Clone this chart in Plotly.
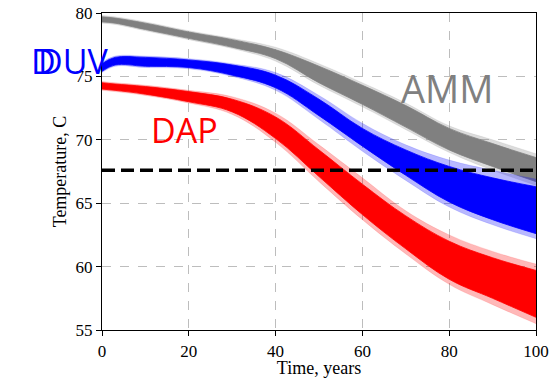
import plotly.graph_objects as go

# ---- data ----
time_years = [0, 3, 10, 20, 30, 40, 50, 60, 70, 80, 90, 100]

amm_outer_hi = [79.8, 79.7, 79.3, 78.6, 78.0, 77.3, 76.0, 74.5, 72.9, 71.1, 70.0, 68.9]
amm_outer_lo = [79.2, 79.1, 78.6, 77.9, 77.2, 76.2, 74.3, 72.6, 70.8, 69.0, 67.6, 66.4]
amm_core_hi = [79.7, 79.6, 79.2, 78.5, 77.9, 77.1, 75.8, 74.3, 72.7, 70.9, 69.7, 68.6]
amm_core_lo = [79.3, 79.2, 78.7, 78.0, 77.3, 76.4, 74.5, 72.8, 71.0, 69.2, 67.9, 66.7]

duv_outer_hi = [76.1, 76.6, 76.6, 76.4, 76.0, 75.3, 73.5, 71.3, 69.6, 68.4, 67.6, 66.9]
duv_outer_lo = [75.3, 75.8, 75.7, 75.6, 75.0, 73.9, 71.6, 69.1, 66.8, 64.7, 63.3, 62.2]
duv_core_hi = [76.0, 76.5, 76.5, 76.3, 75.9, 75.1, 73.2, 70.9, 69.2, 67.9, 67.0, 66.3]
duv_core_lo = [75.4, 75.9, 75.8, 75.7, 75.1, 74.1, 71.9, 69.5, 67.2, 65.1, 63.7, 62.6]

dap_outer_hi = [74.6, 74.5, 74.3, 73.9, 73.4, 72.1, 69.6, 67.0, 64.4, 62.5, 61.2, 60.2]
dap_outer_lo = [73.9, 73.8, 73.5, 72.9, 72.0, 69.8, 66.7, 63.7, 61.0, 58.6, 57.0, 55.5]
dap_core_hi = [74.5, 74.4, 74.2, 73.8, 73.2, 71.8, 69.2, 66.5, 64.0, 62.0, 60.7, 59.7]
dap_core_lo = [74.0, 73.9, 73.6, 73.0, 72.2, 70.1, 67.1, 64.1, 61.4, 59.0, 57.5, 56.0]

threshold_x = [0, 100]
threshold_y = [67.6, 67.6]

x_ticks = [0, 20, 40, 60, 80, 100]
y_ticks = [55, 60, 65, 70, 75, 80]

# ---- figure ----
fig = go.Figure()

def add_bundle(hi_o, lo_o, hi_c, lo_c, rgb):
    r, g, b = rgb
    spl = dict(shape="spline", smoothing=1.1)
    fig.add_trace(go.Scatter(x=time_years, y=hi_o, mode="lines",
                             line=dict(width=0.6, color=f"rgba({r},{g},{b},0.2)", **spl),
                             hoverinfo="skip", showlegend=False))
    fig.add_trace(go.Scatter(x=time_years, y=lo_o, mode="lines", fill="tonexty",
                             fillcolor=f"rgba({r},{g},{b},0.28)",
                             line=dict(width=0.6, color=f"rgba({r},{g},{b},0.2)", **spl),
                             hoverinfo="skip", showlegend=False))
    fig.add_trace(go.Scatter(x=time_years, y=hi_c, mode="lines",
                             line=dict(width=0.8, color=f"rgb({r},{g},{b})", **spl),
                             hoverinfo="skip", showlegend=False))
    fig.add_trace(go.Scatter(x=time_years, y=lo_c, mode="lines", fill="tonexty",
                             fillcolor=f"rgb({r},{g},{b})",
                             line=dict(width=0.8, color=f"rgb({r},{g},{b})", **spl),
                             hoverinfo="skip", showlegend=False))

add_bundle(amm_outer_hi, amm_outer_lo, amm_core_hi, amm_core_lo, (128, 128, 128))
add_bundle(duv_outer_hi, duv_outer_lo, duv_core_hi, duv_core_lo, (0, 0, 255))
add_bundle(dap_outer_hi, dap_outer_lo, dap_core_hi, dap_core_lo, (255, 0, 0))

fig.add_trace(go.Scatter(x=threshold_x, y=threshold_y, mode="lines",
                         line=dict(color="black", width=3.5, dash="13px,6px"),
                         hoverinfo="skip", showlegend=False))

label_font = "Open Sans, DejaVu Sans, sans-serif"
fig.add_annotation(x=-0.152, y=76.2, xref="paper", yref="y", text="DUV", showarrow=False,
                   xanchor="left", yanchor="middle",
                   font=dict(family=label_font, size=34, color="#0000ff"))
fig.add_annotation(x=-0.152, y=76.2, xref="paper", yref="y", text="D", showarrow=False,
                   xanchor="left", yanchor="middle", xshift=-7,
                   font=dict(family=label_font, size=34, color="#0000ff"))
fig.add_annotation(x=79.6, y=74.1, xref="x", yref="y", text="AMM", showarrow=False,
                   xanchor="center", yanchor="middle",
                   font=dict(family=label_font, size=38, color="#808080"))
fig.add_annotation(x=19.1, y=70.75, xref="x", yref="y", text="DAP", showarrow=False,
                   xanchor="center", yanchor="middle",
                   font=dict(family=label_font, size=34, color="#ff0000"))

serif = "Liberation Serif, Times New Roman, serif"
fig.update_layout(
    width=558, height=378,
    margin=dict(l=102, r=22, t=13, b=48),
    paper_bgcolor="white", plot_bgcolor="white",
    font=dict(family=serif, size=17, color="black"),
)
fig.update_xaxes(
    range=[0, 100], tickvals=x_ticks, ticktext=[str(v) for v in x_ticks],
    automargin=False, ticklabeloverflow="allow",
    tickfont=dict(family=serif, size=17, color="black"),
    showgrid=True, gridcolor="#bdbdbd", griddash="dash", gridwidth=1,
    showline=True, linecolor="black", linewidth=1.2, mirror=True,
    ticks="outside", ticklen=5, tickcolor="black",
    zeroline=False,
    title=dict(text="Time, years", font=dict(family=serif, size=18), standoff=4),
)
fig.update_yaxes(
    range=[55, 80], tickvals=y_ticks, ticktext=[str(v) for v in y_ticks],
    automargin=False, ticklabeloverflow="allow",
    tickfont=dict(family=serif, size=17, color="black"),
    showgrid=True, gridcolor="#bdbdbd", griddash="dash", gridwidth=1,
    showline=True, linecolor="black", linewidth=1.2, mirror=True,
    ticks="outside", ticklen=5, tickcolor="black",
    zeroline=False,
    title=dict(text="Temperature, C", font=dict(family=serif, size=18), standoff=4),
)

fig.write_html("out.html",
               config={"displayModeBar": False},
               post_script="document.body.style.margin='0';document.body.style.padding='0';")
